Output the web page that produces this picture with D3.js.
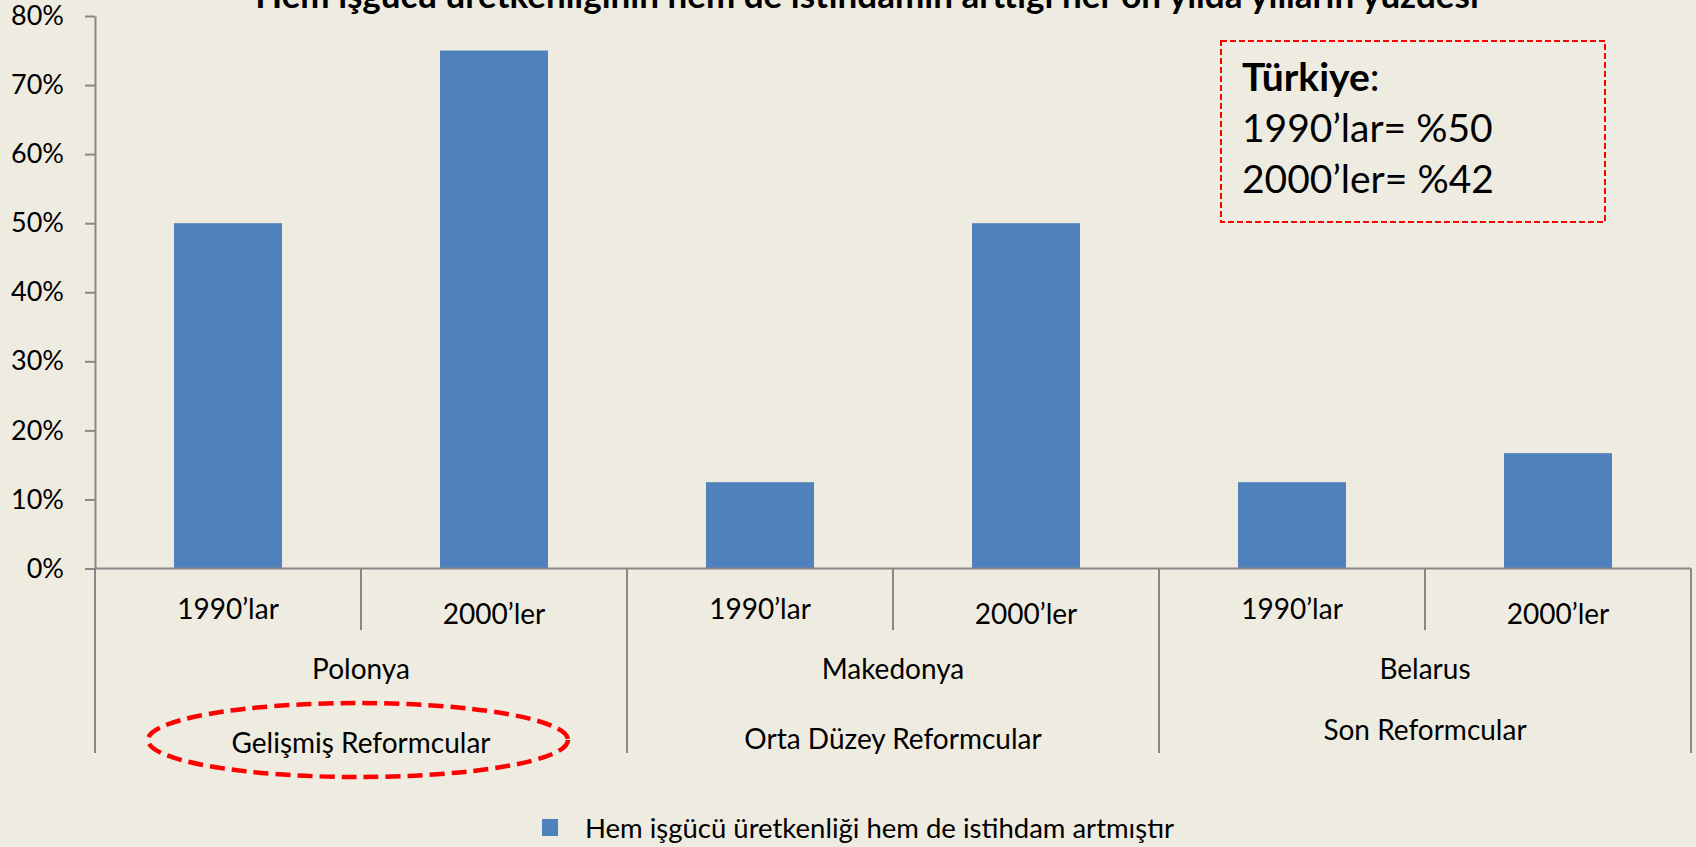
<!DOCTYPE html>
<html>
<head>
<meta charset="utf-8">
<script src="https://cdn.jsdelivr.net/npm/d3@7"></script>
<style>
  body { margin: 0; background: #EEEBE0; }
  svg { display: block; font-family: Lato, "Open Sans", sans-serif; }
</style>
</head>
<body>
<script>
// chart data
var countries = ["Polonya", "Makedonya", "Belarus"];
var groups = ["Gelişmiş Reformcular", "Orta Düzey Reformcular", "Son Reformcular"];
var decades = ["1990’lar", "2000’ler"];
var values = [0.50, 0.75, 0.125, 0.50, 0.125, 0.167];
var yTicks = [0, 0.1, 0.2, 0.3, 0.4, 0.5, 0.6, 0.7, 0.8];
var title = "Hem işgücü üretkenliğinin hem de istihdamın arttığı her on yılda yılların yüzdesi";
var seriesName = "Hem işgücü üretkenliği hem de istihdam artmıştır";
var turkeyLines = ["1990’lar= %50", "2000’ler= %42"];

// one row per bar
var data = [];
countries.forEach(function (c, i) {
  decades.forEach(function (d, j) {
    data.push({ key: c + "|" + d, country: c, decade: d, value: values[i * 2 + j] });
  });
});

var W = 1696, H = 847;
var left = 95, right = 1691, zeroY = 568.5, topY = 16;
var axisColor = "#878787";

var svg = d3.select("body").append("svg")
  .attr("width", W)
  .attr("height", H);

svg.append("rect").attr("width", W).attr("height", H).attr("fill", "#EEEBE0");

// scales
var x = d3.scaleBand()
  .domain(data.map(function (d) { return d.key; }))
  .range([left, right])
  .paddingInner(0.594)
  .paddingOuter(0.297);

var y = d3.scaleLinear().domain([0, 0.8]).range([zeroY, topY]);

// title (cut at the top like the original)
svg.append("text")
  .attr("x", 867)
  .attr("y", 8)
  .attr("text-anchor", "middle")
  .style("font-size", "35px")
  .style("font-weight", "bold")
  .text(title);

// bars
svg.selectAll(".bar")
  .data(data)
  .enter()
  .append("rect")
  .attr("class", "bar")
  .attr("x", function (d) { return x(d.key); })
  .attr("y", function (d) { return y(d.value); })
  .attr("width", x.bandwidth())
  .attr("height", function (d) { return zeroY - y(d.value); })
  .attr("fill", "#4F81BD");

// y axis
var yAxis = svg.append("g")
  .attr("transform", "translate(" + left + ",0)")
  .call(d3.axisLeft(y).tickValues(yTicks).tickFormat(d3.format(".0%")).tickSize(10).tickPadding(21).tickSizeOuter(0));
yAxis.select(".domain").attr("stroke", axisColor).attr("stroke-width", 2);
yAxis.selectAll(".tick line").attr("stroke", axisColor).attr("stroke-width", 2);
yAxis.selectAll(".tick text")
  .attr("fill", "#000")
  .style("font-family", "Lato, sans-serif")
  .style("font-size", "27px");

// x axis line and category dividers
svg.append("line")
  .attr("x1", left).attr("x2", right)
  .attr("y1", zeroY).attr("y2", zeroY)
  .attr("stroke", axisColor).attr("stroke-width", 2);

var step = x.step();
var dividers = d3.range(0, 7).map(function (i) {
  return { x: left + i * step, deep: i % 2 === 0 };
});
svg.selectAll(".div")
  .data(dividers)
  .enter()
  .append("line")
  .attr("x1", function (d) { return d.x; })
  .attr("x2", function (d) { return d.x; })
  .attr("y1", zeroY)
  .attr("y2", function (d) { return d.deep ? 753 : 630; })
  .attr("stroke", axisColor)
  .attr("stroke-width", 2);

// decade labels
svg.selectAll(".dec")
  .data(data)
  .enter()
  .append("text")
  .attr("x", function (d) { return x(d.key) + x.bandwidth() / 2; })
  .attr("y", function (d) { return d.decade === decades[0] ? 609 : 614; })
  .attr("dy", "0.35em")
  .attr("text-anchor", "middle")
  .style("font-size", "28px")
  .text(function (d) { return d.decade; });

// country and reformer group labels
var groupY = [743, 739, 730];
countries.forEach(function (c, i) {
  var cx = left + (i * 2 + 1) * step;
  svg.append("text")
    .attr("x", cx).attr("y", 669).attr("dy", "0.35em")
    .attr("text-anchor", "middle")
    .style("font-size", "28px")
    .text(c);
  svg.append("text")
    .attr("x", cx).attr("y", groupY[i]).attr("dy", "0.35em")
    .attr("text-anchor", "middle")
    .style("font-size", "28px")
    .text(groups[i]);
});

// red dashed ellipse round the first group
svg.append("ellipse")
  .attr("cx", 358).attr("cy", 740)
  .attr("rx", 210).attr("ry", 37)
  .attr("fill", "none")
  .attr("stroke", "#FF0000")
  .attr("stroke-width", 4.5)
  .attr("stroke-dasharray", "15,7");

// Türkiye note box
svg.append("rect")
  .attr("x", 1221).attr("y", 41)
  .attr("width", 384).attr("height", 181)
  .attr("fill", "none")
  .attr("stroke", "#FF0000")
  .attr("stroke-width", 2)
  .attr("stroke-dasharray", "6,3");

var note = svg.append("text")
  .attr("x", 1242)
  .attr("y", 91)
  .style("font-size", "39px");
note.append("tspan").style("font-weight", "bold").text("Türkiye");
note.append("tspan").text(":");

svg.selectAll(".note")
  .data(turkeyLines)
  .enter()
  .append("text")
  .attr("x", 1242)
  .attr("y", function (d, i) { return 142 + i * 51; })
  .style("font-size", "39px")
  .text(function (d) { return d; });

// legend
svg.append("rect")
  .attr("x", 542).attr("y", 819)
  .attr("width", 16).attr("height", 17)
  .attr("fill", "#4F81BD");
svg.append("text")
  .attr("x", 585).attr("y", 828).attr("dy", "0.35em")
  .style("font-size", "27.5px")
  .text(seriesName);
</script>
</body>
</html>
